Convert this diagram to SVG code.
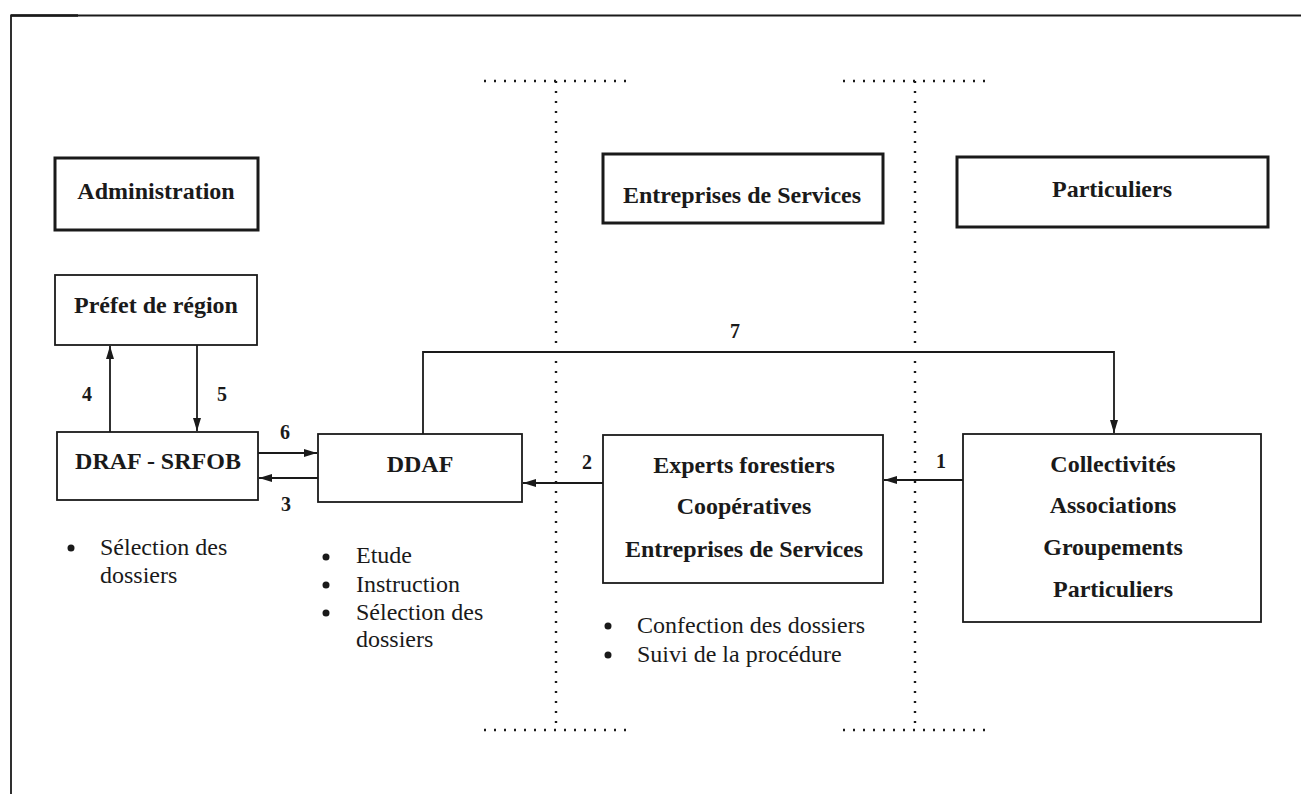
<svg xmlns="http://www.w3.org/2000/svg" width="1301" height="794" viewBox="0 0 1301 794">
<defs>
<style>
.box{fill:#fff;stroke:#1a1a1a;stroke-width:1.8}
.hbox{fill:#fff;stroke:#1a1a1a;stroke-width:3}
.lbl{font-family:"Liberation Serif","Times New Roman",serif;font-size:24px;font-weight:bold;fill:#1a1a1a;text-anchor:middle}
.num{font-family:"Liberation Serif","Times New Roman",serif;font-size:20px;font-weight:bold;fill:#1a1a1a;text-anchor:middle}
.item{font-family:"Liberation Serif","Times New Roman",serif;font-size:24px;fill:#1a1a1a}
.bul{fill:#1a1a1a}
.ln{fill:none;stroke:#1a1a1a;stroke-width:1.8}
.dot{fill:none;stroke:#1a1a1a;stroke-width:2.4;stroke-dasharray:2 8}
</style>
<marker id="ah" viewBox="0 0 13 8" refX="13" refY="4" markerWidth="13" markerHeight="8" markerUnits="userSpaceOnUse" orient="auto">
<path d="M0,0 L13,4 L0,8 Z" fill="#1a1a1a"/>
</marker>
</defs>
<rect width="1301" height="794" fill="#fff"/>
<g id="frame">
<path d="M11,794 V15.5 H1301" class="ln" stroke-width="1.6"/>
<path d="M11,15.5 H78" fill="none" stroke="#1a1a1a" stroke-width="2.5"/>
</g>
<g id="separators">
<path class="dot" d="M484,81 H627 M843,81 H987 M484,730 H627 M843,730 H987"/>
<path class="dot" d="M556,81 V730 M915,81 V730"/>
</g>
<g id="connectors">
<path class="ln" d="M110,432 V346" marker-end="url(#ah)"/>
<path class="ln" d="M197,345 V431" marker-end="url(#ah)"/>
<path class="ln" d="M258,453 H317" marker-end="url(#ah)"/>
<path class="ln" d="M318,478 H259" marker-end="url(#ah)"/>
<path class="ln" d="M603,483 H523" marker-end="url(#ah)"/>
<path class="ln" d="M963,480 H884" marker-end="url(#ah)"/>
<path class="ln" d="M423,434 V352 H1114 V433" marker-end="url(#ah)"/>
<text class="num" x="87" y="401">4</text>
<text class="num" x="222" y="401">5</text>
<text class="num" x="285" y="439">6</text>
<text class="num" x="286" y="511">3</text>
<text class="num" x="587" y="469">2</text>
<text class="num" x="941" y="468">1</text>
<text class="num" x="735" y="338">7</text>
</g>
<g id="administration">
<rect class="hbox" x="55" y="158" width="203" height="72"/>
<text class="lbl" x="156" y="199">Administration</text>
</g>
<g id="entreprises-header">
<rect class="hbox" x="603" y="154" width="280" height="69"/>
<text class="lbl" x="742" y="203">Entreprises de Services</text>
</g>
<g id="particuliers-header">
<rect class="hbox" x="957" y="157" width="311" height="70"/>
<text class="lbl" x="1112" y="197">Particuliers</text>
</g>
<g id="prefet">
<rect class="box" x="55" y="275" width="202" height="70"/>
<text class="lbl" x="156" y="313">Préfet de région</text>
</g>
<g id="draf">
<rect class="box" x="57" y="432" width="201" height="68"/>
<text class="lbl" x="158" y="469">DRAF - SRFOB</text>
</g>
<g id="ddaf">
<rect class="box" x="318" y="434" width="204" height="68"/>
<text class="lbl" x="420" y="472">DDAF</text>
</g>
<g id="experts">
<rect class="box" x="603" y="435" width="280" height="148"/>
<text class="lbl" x="744" y="473">Experts forestiers</text>
<text class="lbl" x="744" y="514">Coopératives</text>
<text class="lbl" x="744" y="557">Entreprises de Services</text>
</g>
<g id="collectivites">
<rect class="box" x="963" y="434" width="298" height="188"/>
<text class="lbl" x="1113" y="472">Collectivités</text>
<text class="lbl" x="1113" y="513">Associations</text>
<text class="lbl" x="1113" y="555">Groupements</text>
<text class="lbl" x="1113" y="597">Particuliers</text>
</g>
<g id="list-draf">
<circle class="bul" cx="71" cy="548" r="3.5"/>
<text class="item" x="100" y="555">Sélection des</text>
<text class="item" x="100" y="583">dossiers</text>
</g>
<g id="list-ddaf">
<circle class="bul" cx="326" cy="557" r="3.5"/>
<text class="item" x="356" y="563">Etude</text>
<circle class="bul" cx="326" cy="585" r="3.5"/>
<text class="item" x="356" y="592">Instruction</text>
<circle class="bul" cx="326" cy="613" r="3.5"/>
<text class="item" x="356" y="620">Sélection des</text>
<text class="item" x="356" y="647">dossiers</text>
</g>
<g id="list-experts">
<circle class="bul" cx="608" cy="626" r="3.5"/>
<text class="item" x="637" y="633">Confection des dossiers</text>
<circle class="bul" cx="608" cy="655" r="3.5"/>
<text class="item" x="637" y="662">Suivi de la procédure</text>
</g>
</svg>
